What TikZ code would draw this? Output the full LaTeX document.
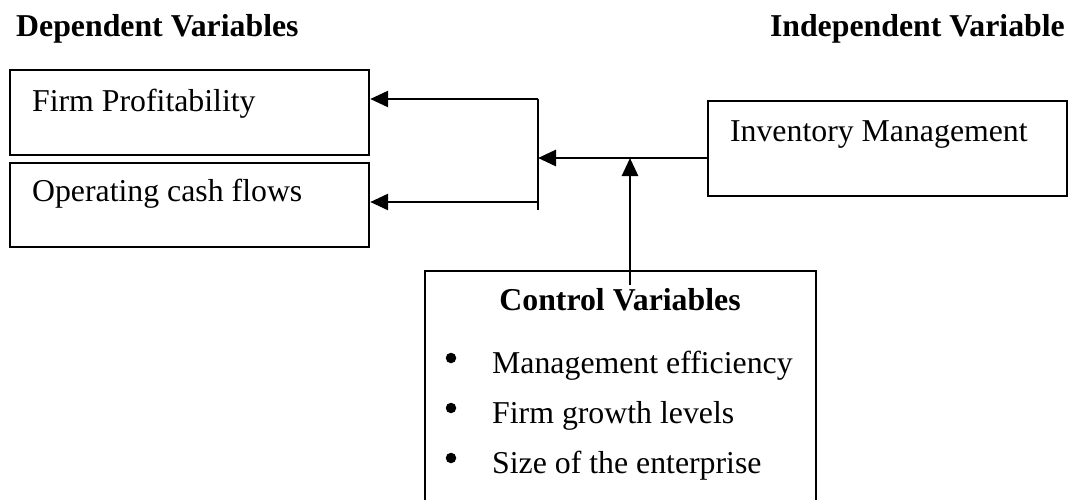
\documentclass[tikz,border=0pt]{standalone}
\usepackage{fontspec}
\setmainfont{Liberation Serif}
\usetikzlibrary{positioning,arrows.meta}
\newcommand{\bodyfont}{\fontsize{31.8}{38}\selectfont}
\tikzset{>={Triangle[length=18pt,width=16pt]}}
\tikzstyle{varbox}=[draw, line width=2.2pt, anchor=north west, inner xsep=22pt, inner ysep=0pt, text width=315pt, align=flush left]
\tikzstyle{heading}=[font=\bodyfont\bfseries, inner sep=0pt]
\tikzstyle{link}=[line width=2.8pt]
\tikzstyle{dot}=[circle, fill, inner sep=0pt, minimum size=10.5pt]

\begin{document}
\begin{tikzpicture}[x=1pt, y=-1pt, font=\bodyfont]
	\useasboundingbox (0,0) rectangle (1071,499);

	% column titles
	\node[heading, anchor=base west] (dephead) at (16,36) {Dependent Variables};
	\node[heading, anchor=base east] (indhead) at (1065,36) {Independent Variable};

	% boxes
	\node[varbox, text height=41pt, text depth=44pt] (fp) at (9,69) {Firm Profitability};
	\node[varbox, text height=38pt, text depth=46pt] (ocf) at (9,162) {Operating cash flows};
	\node[varbox, text height=40pt, text depth=55pt] (im) at (707,100) {Inventory Management};
	\node[draw, line width=2.2pt, anchor=north west, minimum width=391pt, minimum height=260pt] (ctrl) at (424,270) {};

	\node[heading, anchor=base] (ctrlhead) at (620,310) {Control Variables};
	\foreach \cv [count=\i] in {Management efficiency, Firm growth levels, Size of the enterprise} {
		\node[dot] (dot\i) at (451,308+50*\i) {};
		\node[anchor=base west, inner sep=0pt] (cv\i) at (492,323+50*\i) {\cv};
	}

	% connectors
	\coordinate (jtop) at (538,99);
	\coordinate (jocf) at (538,202);
	\coordinate (jbot) at (538,210);
	\coordinate (split) at (538,158);
	\coordinate (cvtop) at (630,285);

	\draw[link] (jtop) -- (jbot);
	\draw[link,->] (jtop) -- (jtop -| fp.east);
	\draw[link,->] (jocf) -- (jocf -| ocf.east);
	\draw[link,->] (split -| im.west) -- (split);
	\draw[link,->] (cvtop) -- (cvtop |- split);
\end{tikzpicture}
\end{document}
